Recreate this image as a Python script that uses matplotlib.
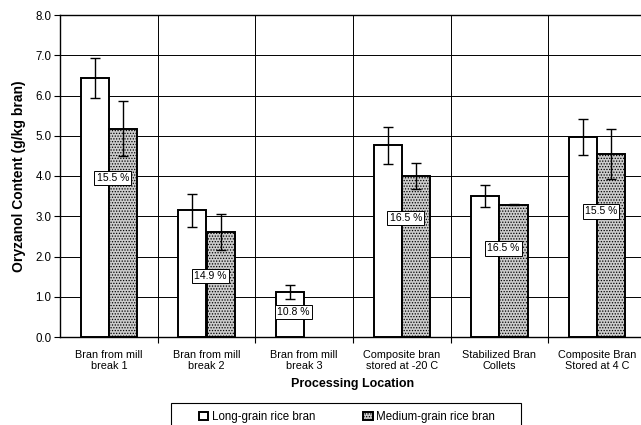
import numpy as np
import matplotlib
matplotlib.use("Agg")
import matplotlib.pyplot as plt
from matplotlib.patches import Rectangle
from matplotlib.ticker import FormatStrFormatter, MultipleLocator

plt.rcParams["font.family"] = ["Liberation Sans", "DejaVu Sans"]
plt.rcParams["hatch.color"] = "#666666"
plt.rcParams["hatch.linewidth"] = 0.6

categories = [
    "Bran from mill\nbreak 1",
    "Bran from mill\nbreak 2",
    "Bran from mill\nbreak 3",
    "Composite bran\nstored at -20 C",
    "Stabilized Bran\nCollets",
    "Composite Bran\nStored at 4 C",
]
long_grain = [6.43, 3.15, 1.12, 4.76, 3.50, 4.97]
long_err = [0.50, 0.41, 0.18, 0.45, 0.28, 0.44]
medium_grain = [5.18, 2.61, np.nan, 4.00, 3.29, 4.55]
medium_err = [0.69, 0.44, np.nan, 0.32, 0.02, 0.63]
pct_labels = ["15.5 %", "14.9 %", "10.8 %", "16.5 %", "16.5 %", "15.5 %"]
pct_y = [3.96, 1.51, 0.62, 2.95, 2.20, 3.12]

fig = plt.figure(figsize=(6.41, 4.25), dpi=100)
ax = fig.add_axes([60 / 641, 88 / 425, 586 / 641, 322 / 425])

x = np.arange(len(categories))
w = 0.29
err_kw = dict(ecolor="black", elinewidth=1.0, capsize=3.5, capthick=1.0)

ax.bar(x - w / 2, long_grain, w, yerr=long_err, color="white",
       edgecolor="black", linewidth=1.4, error_kw=err_kw,
       label="Long-grain rice bran", zorder=3)
ax.bar(x + w / 2, medium_grain, w, yerr=medium_err, color="#cccccc",
       edgecolor="black", linewidth=1.4, hatch="......", error_kw=err_kw,
       label="Medium-grain rice bran", zorder=3)

# percentage boxes
for i, (txt, yy) in enumerate(zip(pct_labels, pct_y)):
    xx = i - 0.11 if i == 2 else i + 0.04
    ax.text(xx, yy, txt, ha="center", va="center", fontsize=7.5, zorder=5,
            bbox=dict(boxstyle="square,pad=0.2", fc="white", ec="black", lw=0.7))

ax.set_xlim(-0.5, len(categories) - 0.5)
ax.set_ylim(0, 8)
ax.yaxis.set_major_locator(MultipleLocator(1))
ax.yaxis.set_major_formatter(FormatStrFormatter("%.1f"))
ax.set_xticks(x)
ax.set_xticklabels(categories, fontsize=7.8)
ax.set_xticks(x[:-1] + 0.5, minor=True)
ax.tick_params(axis="x", which="major", length=0, pad=9)
ax.tick_params(axis="x", which="minor", length=4, width=0.8)
ax.tick_params(axis="y", labelsize=8.3, length=4, width=0.8, pad=2)

ax.grid(axis="y", which="major", color="black", linewidth=0.7, zorder=0)
ax.grid(axis="x", which="minor", color="black", linewidth=0.7, zorder=0)
for s in ax.spines.values():
    s.set_linewidth(1.0)

ax.set_ylabel("Oryzanol Content (g/kg bran)", fontsize=10, fontweight="bold", labelpad=7)
ax.set_xlabel("Processing Location", fontsize=9, fontweight="bold", labelpad=5)

# legend frame, open at the bottom edge of the picture
fig.patches.append(Rectangle((171 / 641, -0.05), 350 / 641, 0.05 + 22 / 425,
                             transform=fig.transFigure, fill=False,
                             edgecolor="black", linewidth=0.8))
fig.legend(loc="center", bbox_to_anchor=(347 / 641, 8 / 425), ncol=2,
           fontsize=8.3, frameon=False, handlelength=0.8, handleheight=0.8,
           handletextpad=0.3, columnspacing=4.2, borderpad=0, borderaxespad=0)

fig.savefig("out.png", dpi=100)
